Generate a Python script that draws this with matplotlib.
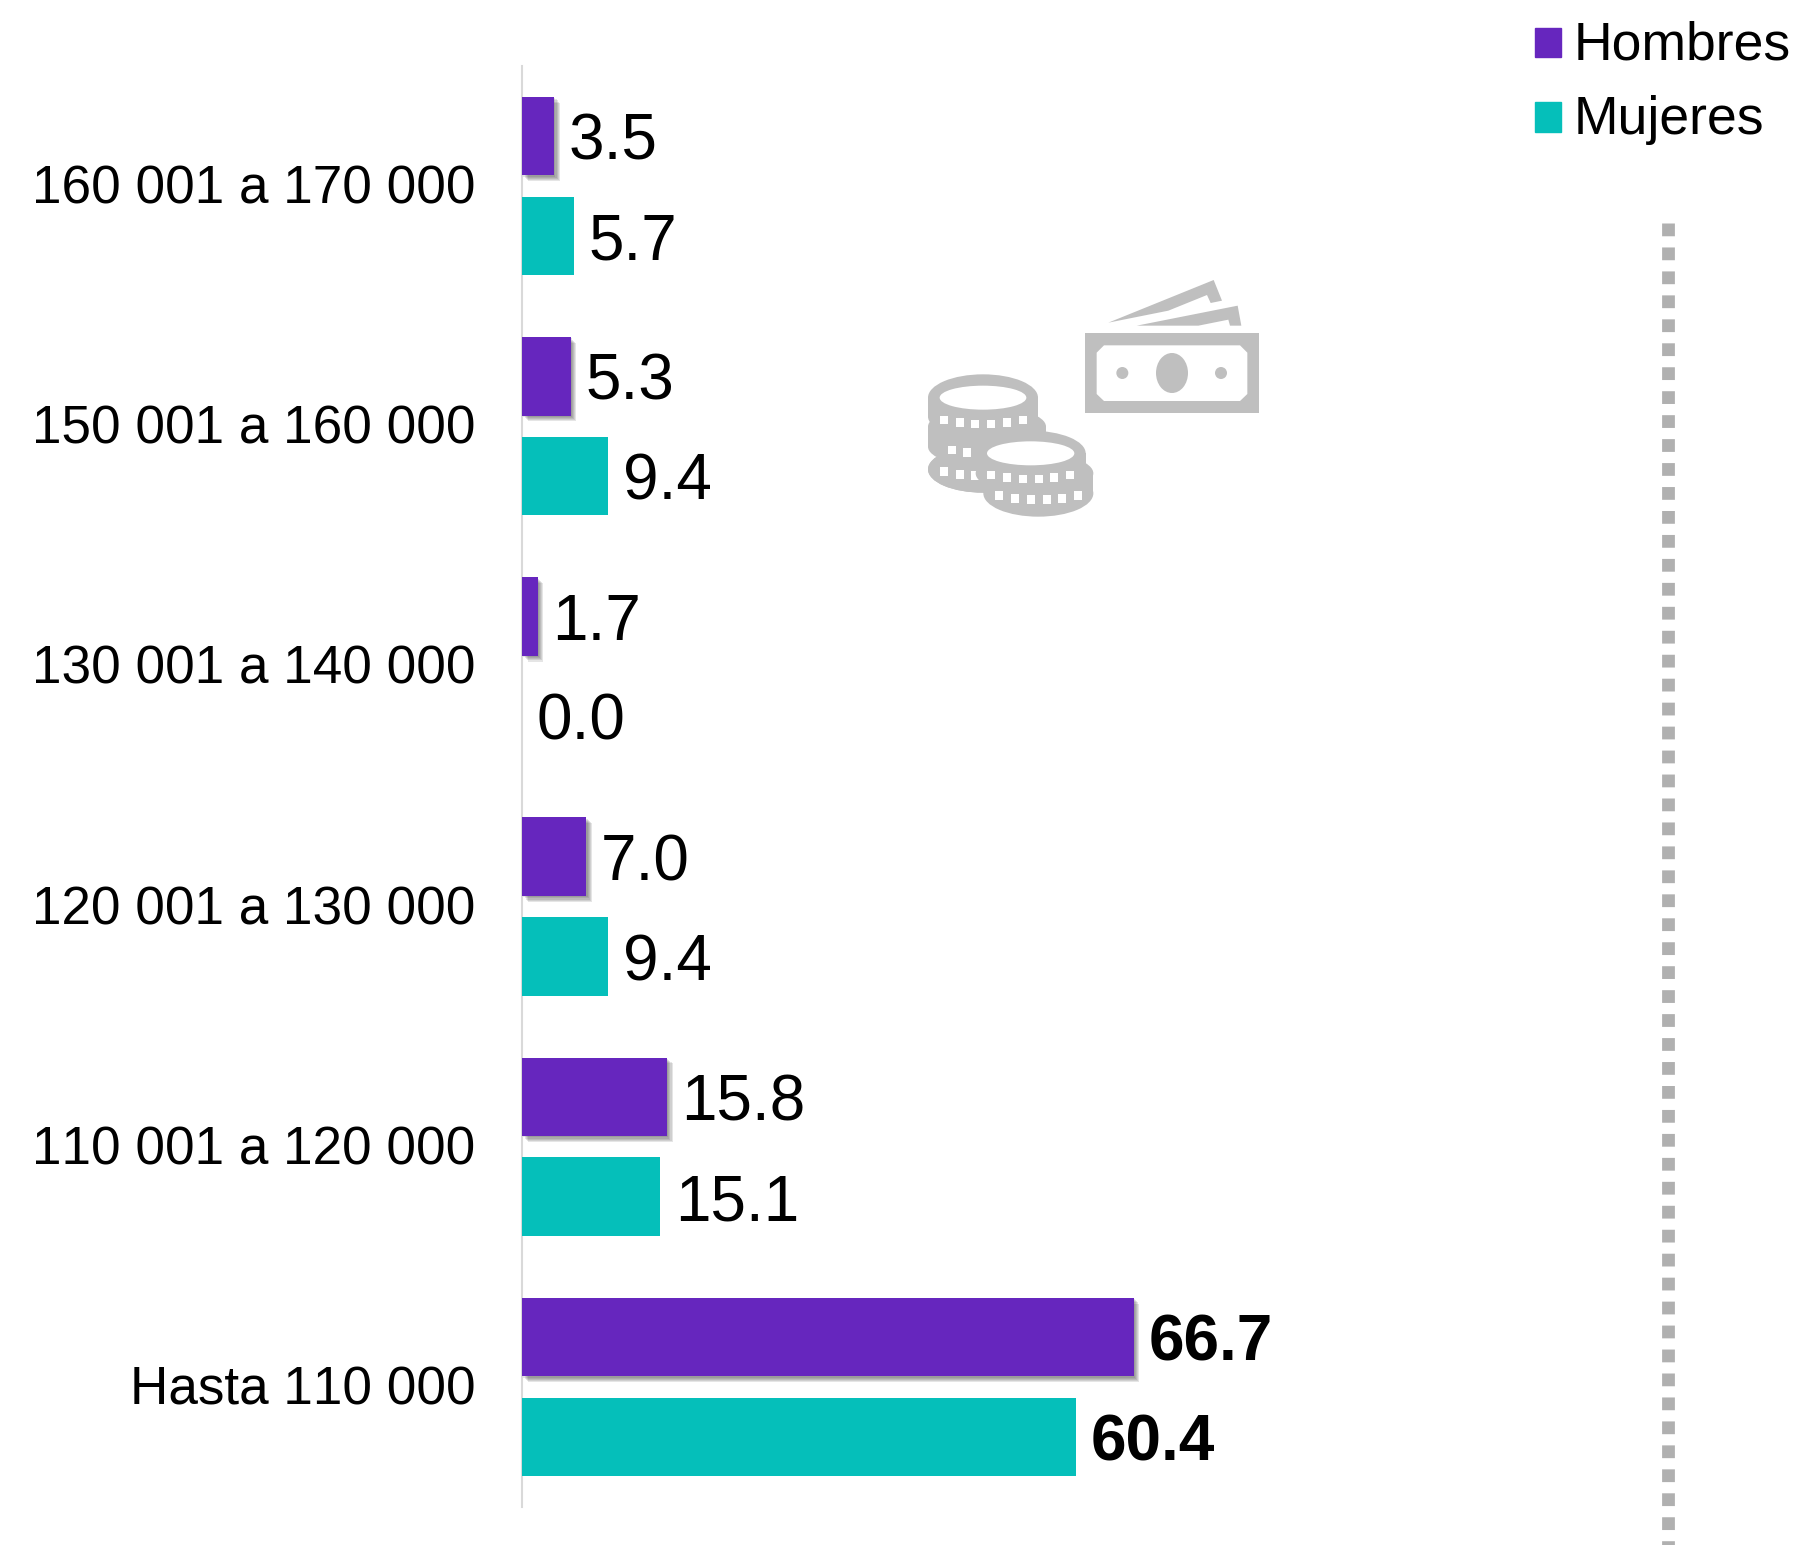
import matplotlib
matplotlib.use("Agg")
import matplotlib.pyplot as plt
import matplotlib.patheffects as pe
from matplotlib.lines import Line2D
from matplotlib.patches import Ellipse, Polygon, Rectangle, Patch
from matplotlib.transforms import Affine2D, ScaledTranslation
import numpy as np

categories = ["Hasta 110 000", "110 001 a 120 000", "120 001 a 130 000",
              "130 001 a 140 000", "150 001 a 160 000", "160 001 a 170 000"]
hombres = [66.7, 15.8, 7.0, 1.7, 5.3, 3.5]
mujeres = [60.4, 15.1, 9.4, 0.0, 9.4, 5.7]
bold_category = "Hasta 110 000"

PURPLE = "#6626BE"
TEAL = "#05BFBA"
GREY = "#BFBFBF"
W, H = 1799, 1545

plt.rcParams["font.family"] = ["Liberation Sans", "DejaVu Sans"]
plt.rcParams["text.kerning_factor"] = 12
fig = plt.figure(figsize=(W / 100, H / 100), dpi=100, facecolor="white")
ax = fig.add_axes([522 / W, (H - 1507) / H, (W - 522) / W, (1507 - 66) / H])

y = np.arange(len(categories))
shadow = [pe.SimplePatchShadow(offset=(o, -o), shadow_rgbFace="#303030", alpha=0.12)
          for o in (4.2, 3.4, 2.6, 1.8, 1.0)] + [pe.Normal()]
bars_h = ax.barh(y + 0.208, hombres, 0.327, color=PURPLE, zorder=3, label="Hombres")
for b in bars_h:
    b.set_path_effects(shadow)
bars_m = ax.barh(y - 0.208, mujeres, 0.327, color=TEAL, zorder=3, label="Mujeres")

for series, off in ((hombres, 0.208), (mujeres, -0.208)):
    for yi, v, cat in zip(y, series, categories):
        ax.annotate(f"{v:.1f}", (v, yi + off), xytext=(10.5, 0), textcoords="offset points",
                    va="center_baseline", ha="left", fontsize=46, color="black",
                    fontweight="bold" if cat == bold_category else "normal")

ax.set_xlim(0, (W - 522) / 9.17)
ax.set_ylim(-0.5, 5.5)
ax.set_yticks(y, categories)
ax.set_xticks([])
ax.tick_params(axis="y", length=0, pad=33.5, labelsize=38.2, labelcolor="black")
for lab in ax.get_yticklabels():
    lab.set_transform(lab.get_transform() + ScaledTranslation(0, 1.4 / 72, fig.dpi_scale_trans))
for s in ("top", "right", "bottom"):
    ax.spines[s].set_visible(False)
ax.spines["left"].set_color("#D9D9D9")
ax.spines["left"].set_linewidth(1.5)
ax.patch.set_alpha(0)

handles = [Patch(color=PURPLE, label="Hombres"), Patch(color=TEAL, label="Mujeres")]
leg = fig.legend(handles=handles, loc="upper left", bbox_to_anchor=(1535 / W, 1 - 20 / H),
                 frameon=False, fontsize=38.5, borderpad=0, borderaxespad=0,
                 handlelength=0.48, handleheight=0.48, handletextpad=0.24, labelspacing=0.46)
for h in leg.legend_handles:
    h.set_y(h.get_y() - 1.8)

# Vertical dotted divider
fig.add_artist(Line2D([1668 / W, 1668 / W], [1 - 223 / H, 0], transform=fig.transFigure,
                      color="#B0B0B0", lw=9.2, dashes=(1.0, 0.875), dash_capstyle="butt",
                      dash_joinstyle="miter"))

# Decorative money icon (pixel-space drawing)
tf = Affine2D().scale(1 / 3, -1 / 3).translate(900, H - 260)
def add(p):
    p.set_transform(tf)
    p.set_linewidth(0)
    fig.add_artist(p)

add(Rectangle((555, 220), 522, 238, color=GREY))
add(Polygon([(612, 256), (1020, 256), (1042, 278), (1042, 402), (1020, 423), (612, 423),
             (590, 402), (590, 278)], color="white"))
add(Ellipse((816, 339), 96, 120, color=GREY))
add(Ellipse((667, 339), 36, 36, color=GREY))
add(Ellipse((963, 339), 36, 36, color=GREY))
add(Polygon([(625, 188), (941, 60), (966, 122), (932, 129), (921, 105), (805, 152)], color=GREY))
add(Polygon([(710, 197), (1013, 137), (1024, 197), (990, 197), (985, 179), (895, 197)], color=GREY))

def coin(cx, rx, top_cy, bot_cy, ry_top, ry_bot):
    add(Ellipse((cx, top_cy), 2 * rx, 2 * ry_top, color=GREY))
    add(Ellipse((cx, bot_cy), 2 * rx, 2 * ry_bot, color=GREY))
    add(Rectangle((cx - rx, top_cy), 2 * rx, bot_cy - top_cy, color=GREY))

def ticks(xs, ytop, h=26, w=24, sag=14):
    mid = (xs[0] + xs[-1] + w) / 2
    half = (xs[-1] + w - xs[0]) / 2
    for xx in xs:
        t = (xx + w / 2 - mid) / half
        add(Rectangle((xx, ytop + sag * (1 - t * t)), w, h, color="white"))

# back stack
coin(249, 165, 628, 628, 70, 70)
coin(261, 177, 500, 560, 60, 60)
ticks([143, 190, 238, 285, 333, 380], 555)
ticks([120, 167, 214, 262, 309, 357], 620)
coin(249, 165, 413, 470, 70, 62)
add(Ellipse((249, 413), 260, 72, color="white"))
ticks([120, 167, 214, 262, 309, 357], 465)
# front stack
coin(415, 165, 640, 700, 60, 70)
coin(392, 165, 580, 640, 68, 60)
add(Ellipse((392, 580), 262, 72, color="white"))
ticks([262, 309, 357, 404, 451, 499], 630)
ticks([285, 333, 380, 428, 475, 523], 692)

fig.savefig("out.png", dpi=100)
